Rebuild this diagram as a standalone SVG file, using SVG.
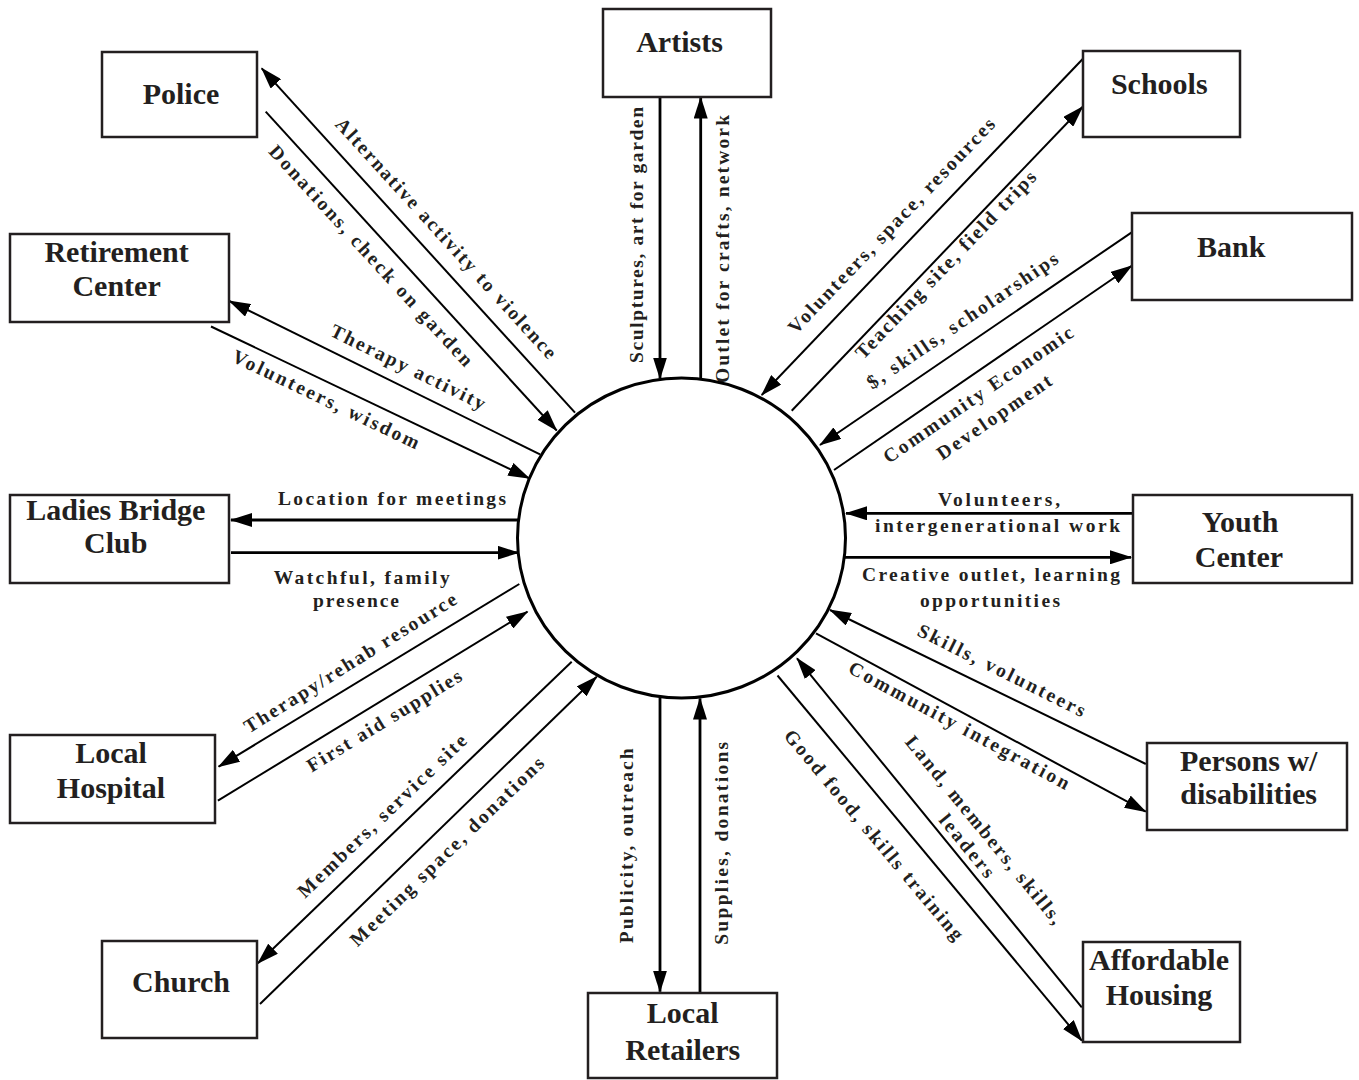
<svg xmlns="http://www.w3.org/2000/svg" width="1359" height="1080" viewBox="0 0 1359 1080">
<style>
.box{fill:#fff;stroke:#231f20;stroke-width:2.5}
.nt{font-family:"Liberation Serif","Times New Roman",serif;font-weight:bold;font-size:30px;fill:#231f20;text-anchor:middle}
.lb{font-family:"Liberation Serif","Times New Roman",serif;font-weight:bold;font-size:19.5px;fill:#231f20;text-anchor:middle}
.c{stroke:#000;stroke-width:2;fill:none;marker-end:url(#ah)}
.c3{stroke:#000;stroke-width:2.8;fill:none;marker-end:url(#ah)}
</style>
<defs>
<marker id="ah" viewBox="0 0 22 14" refX="21" refY="7" markerWidth="22" markerHeight="14" markerUnits="userSpaceOnUse" orient="auto">
<path d="M0,0 L22,7 L0,14 z" fill="#000"/>
</marker>
</defs>
<rect width="1359" height="1080" fill="#fff"/>

<g id="connectors">
<line class="c" x1="575" y1="412.7" x2="261.7" y2="68.3"/>
<line class="c" x1="265.7" y1="111.7" x2="556.7" y2="430.5"/>
<line class="c" x1="540" y1="454.3" x2="229.3" y2="301"/>
<line class="c" x1="211" y1="326.5" x2="529.3" y2="478.3"/>
<line class="c3" x1="660" y1="97" x2="660" y2="378.5"/>
<line class="c3" x1="700.7" y1="379" x2="700.7" y2="97.5"/>
<line class="c" x1="1082.7" y1="59" x2="761.7" y2="395"/>
<line class="c" x1="791.7" y1="410.7" x2="1082.7" y2="106.7"/>
<line class="c" x1="1131.7" y1="232.3" x2="820" y2="445"/>
<line class="c" x1="834" y1="470" x2="1131.7" y2="265.7"/>
<line class="c3" x1="520.6" y1="520" x2="231" y2="520"/>
<line class="c3" x1="231" y1="552.7" x2="518.5" y2="552.7"/>
<line class="c3" x1="1133" y1="513.3" x2="846" y2="513.3"/>
<line class="c3" x1="845" y1="557.3" x2="1131" y2="557.3"/>
<line class="c" x1="519.3" y1="584" x2="218.6" y2="766.7"/>
<line class="c" x1="217.9" y1="800.7" x2="527.5" y2="611.7"/>
<line class="c" x1="571.7" y1="661.7" x2="257.9" y2="963.3"/>
<line class="c" x1="260" y1="1004" x2="596.7" y2="676.7"/>
<line class="c3" x1="660" y1="698" x2="660" y2="991.7"/>
<line class="c3" x1="700" y1="992.7" x2="700" y2="698.5"/>
<line class="c" x1="1145.8" y1="764" x2="830" y2="610"/>
<line class="c" x1="816" y1="633.3" x2="1145.8" y2="811.7"/>
<line class="c" x1="1081.8" y1="1007.3" x2="797" y2="658.3"/>
<line class="c" x1="777.5" y1="675.5" x2="1081.8" y2="1040.7"/>
</g>

<g id="labels">
<text class="lb" x="445" y="239.2" dy="5" textLength="318" lengthAdjust="spacing" transform="rotate(47.7 445 239.2)">Alternative activity to violence</text>
<text class="lb" x="370" y="256.7" dy="5" textLength="292" lengthAdjust="spacing" transform="rotate(47.6 370 256.7)">Donations, check on garden</text>
<text class="lb" x="407.5" y="368.3" dy="5" textLength="170" lengthAdjust="spacing" transform="rotate(26.2 407.5 368.3)">Therapy activity</text>
<text class="lb" x="325.4" y="400.8" dy="5" textLength="205" lengthAdjust="spacing" transform="rotate(25.6 325.4 400.8)">Volunteers, wisdom</text>
<text class="lb" x="638" y="235" dy="5" textLength="256" lengthAdjust="spacing" transform="rotate(-90 638 235)">Sculptures, art for garden</text>
<text class="lb" x="724" y="249" dy="5" textLength="268" lengthAdjust="spacing" transform="rotate(-90 724 249)">Outlet for crafts, network</text>
<text class="lb" x="892.5" y="226.7" dy="5" textLength="290" lengthAdjust="spacing" transform="rotate(-46.3 892.5 226.7)">Volunteers, space, resources</text>
<text class="lb" x="946.7" y="265.8" dy="5" textLength="252" lengthAdjust="spacing" transform="rotate(-46.25 946.7 265.8)">Teaching site, field trips</text>
<text class="lb" x="963.3" y="321.7" dy="5" textLength="227" lengthAdjust="spacing" transform="rotate(-34.3 963.3 321.7)">$, skills, scholarships</text>
<text class="lb" x="979" y="395.8" dy="5" textLength="226" lengthAdjust="spacing" transform="rotate(-34.5 979 395.8)">Community Economic</text>
<text class="lb" x="995" y="418.3" dy="5" textLength="135" lengthAdjust="spacing" transform="rotate(-34.5 995 418.3)">Development</text>
<text class="lb" x="392" y="505" textLength="228" lengthAdjust="spacing">Location for meetings</text>
<text class="lb" x="361.7" y="584" textLength="176" lengthAdjust="spacing">Watchful, family</text>
<text class="lb" x="356" y="607.3" textLength="86" lengthAdjust="spacing">presence</text>
<text class="lb" x="999" y="506" textLength="122" lengthAdjust="spacing">Volunteers,</text>
<text class="lb" x="997.5" y="531.7" textLength="245" lengthAdjust="spacing">intergenerational work</text>
<text class="lb" x="991" y="581" textLength="258" lengthAdjust="spacing">Creative outlet, learning</text>
<text class="lb" x="990" y="606.7" textLength="140" lengthAdjust="spacing">opportunities</text>
<text class="lb" x="351" y="664" dy="5" textLength="247" lengthAdjust="spacing" transform="rotate(-32 351 664)">Therapy/rehab resource</text>
<text class="lb" x="385" y="722" dy="5" textLength="178" lengthAdjust="spacing" transform="rotate(-31.4 385 722)">First aid supplies</text>
<text class="lb" x="383" y="817" dy="5" textLength="226" lengthAdjust="spacing" transform="rotate(-43.9 383 817)">Members, service site</text>
<text class="lb" x="448" y="852.5" dy="5" textLength="262" lengthAdjust="spacing" transform="rotate(-44.2 448 852.5)">Meeting space, donations</text>
<text class="lb" x="628" y="845.8" dy="5" textLength="195" lengthAdjust="spacing" transform="rotate(-90 628 845.8)">Publicity, outreach</text>
<text class="lb" x="723" y="843.3" dy="5" textLength="203" lengthAdjust="spacing" transform="rotate(-90 723 843.3)">Supplies, donations</text>
<text class="lb" x="1001" y="671.7" dy="5" textLength="185" lengthAdjust="spacing" transform="rotate(26.5 1001 671.7)">Skills, volunteers</text>
<text class="lb" x="958.5" y="726.7" dy="5" textLength="248" lengthAdjust="spacing" transform="rotate(28.4 958.5 726.7)">Community integration</text>
<text class="lb" x="983" y="830.8" dy="5" textLength="237" lengthAdjust="spacing" transform="rotate(50.8 983 830.8)">Land, members, skills,</text>
<text class="lb" x="966" y="846.7" dy="5" textLength="76" lengthAdjust="spacing" transform="rotate(50.8 966 846.7)">leaders</text>
<text class="lb" x="872.9" y="835.8" dy="5" textLength="268" lengthAdjust="spacing" transform="rotate(50.1 872.9 835.8)">Good food, skills training</text>
</g>

<g id="garden">
<ellipse cx="681.5" cy="538" rx="164" ry="160" fill="#fff" stroke="#000" stroke-width="3"/>
</g>

<g id="police"><rect class="box" x="102" y="52" width="155" height="85"/><text class="nt" x="181" y="104">Police</text></g>
<g id="retirement"><rect class="box" x="10" y="234" width="219" height="88"/><text class="nt" x="116.6" y="261.7">Retirement</text><text class="nt" x="116.6" y="296">Center</text></g>
<g id="artists"><rect class="box" x="603" y="9" width="168" height="88"/><text class="nt" x="679.5" y="51.7">Artists</text></g>
<g id="schools"><rect class="box" x="1083" y="51" width="157" height="86"/><text class="nt" x="1159.3" y="94.3">Schools</text></g>
<g id="bank"><rect class="box" x="1132" y="213" width="220" height="87"/><text class="nt" x="1231.3" y="256.7">Bank</text></g>
<g id="ladies"><rect class="box" x="10" y="495" width="219" height="88"/><text class="nt" x="115.8" y="520">Ladies Bridge</text><text class="nt" x="115.8" y="552.7">Club</text></g>
<g id="youth"><rect class="box" x="1133" y="495" width="219" height="88"/><text class="nt" x="1240" y="531.7">Youth</text><text class="nt" x="1239" y="566.7">Center</text></g>
<g id="hospital"><rect class="box" x="10" y="735" width="205" height="88"/><text class="nt" x="111" y="763.3">Local</text><text class="nt" x="111" y="798.3">Hospital</text></g>
<g id="persons"><rect class="box" x="1147" y="743" width="200" height="87"/><text class="nt" x="1248.7" y="770.7">Persons w/</text><text class="nt" x="1248.7" y="804">disabilities</text></g>
<g id="church"><rect class="box" x="102" y="941" width="155" height="97"/><text class="nt" x="181" y="991.7">Church</text></g>
<g id="retailers"><rect class="box" x="588" y="993" width="189" height="85"/><text class="nt" x="682.7" y="1023.3">Local</text><text class="nt" x="682.7" y="1060">Retailers</text></g>
<g id="housing"><rect class="box" x="1083" y="942" width="157" height="100"/><text class="nt" x="1159" y="970">Affordable</text><text class="nt" x="1159" y="1005">Housing</text></g>
</svg>
